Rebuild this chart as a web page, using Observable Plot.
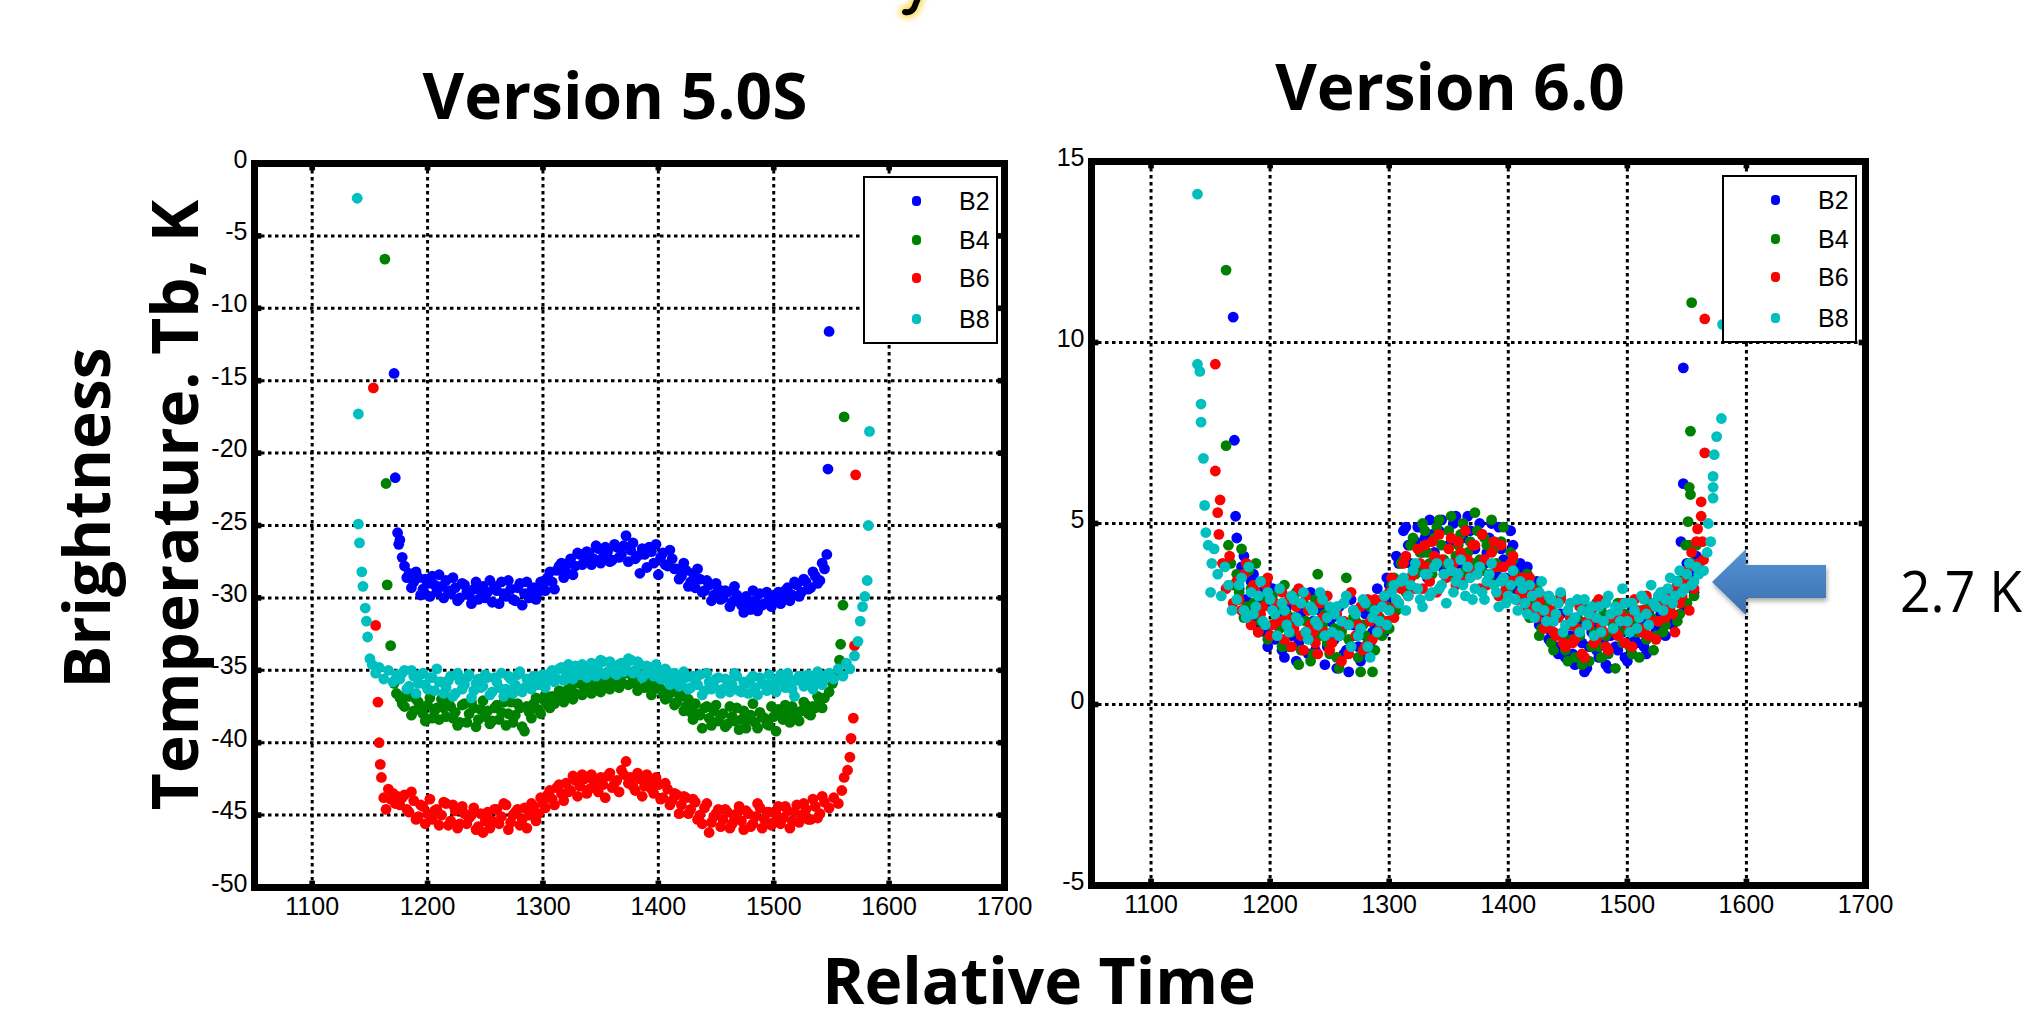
<!DOCTYPE html>
<html><head><meta charset="utf-8">
<script src="https://cdn.jsdelivr.net/npm/d3@7"></script>
<script src="https://cdn.jsdelivr.net/npm/@observablehq/plot@0.6"></script>
<style>
html,body{margin:0;padding:0;background:#fff;}
#page{position:relative;width:2027px;height:1024px;overflow:hidden;background:#fff;}
.chart{position:absolute;background:none !important;}
#overlay{position:absolute;left:0;top:0;pointer-events:none;}
</style></head><body><div id="page"></div>
<script>
// ---------- categories / ticks ----------
const bands = ["B2", "B4", "B6", "B8"];
const bandColors = ["#0000ff", "#008000", "#ff0000", "#00bfbf"];
const xTicks = [1100, 1200, 1300, 1400, 1500, 1600, 1700];
const xGrid = [1100, 1200, 1300, 1400, 1500, 1600];
const yTicksV5 = [-50, -45, -40, -35, -30, -25, -20, -15, -10, -5, 0];
const yTicksV6 = [-5, 0, 5, 10, 15];

// ---------- Version 5.0S : sample times ----------
const timesV5 = [1176,1180,1184,1188,1192,1196,1200,1204,1208,1212,
1216,1220,1224,1228,1232,1236,1240,1244,1248,1252,
1256,1260,1264,1268,1272,1276,1280,1284,1288,1292,
1296,1300,1304,1308,1312,1316,1320,1324,1328,1332,
1336,1340,1344,1348,1352,1356,1360,1364,1368,1372,
1376,1380,1384,1388,1392,1396,1400,1404,1408,1412,
1416,1420,1424,1428,1432,1436,1440,1444,1448,1452,
1456,1460,1464,1468,1472,1476,1480,1484,1488,1492,
1496,1500,1504,1508,1512,1516,1520,1524,1528,1532,
1536,1540,1544];
const timesV5b = [1178,1182,1186,1190,1194,1198,1202,1206,1210,1214,
1218,1222,1226,1230,1234,1238,1242,1246,1250,1254,
1258,1262,1266,1270,1274,1278,1282,1286,1290,1294,
1298,1302,1306,1310,1314,1318,1322,1326,1330,1334,
1338,1342,1346,1350,1354,1358,1362,1366,1370,1374,
1378,1382,1386,1390,1394,1398,1402,1406,1410,1414,
1418,1422,1426,1430,1434,1438,1442,1446,1450,1454,
1458,1462,1466,1470,1474,1478,1482,1486,1490,1494,
1498,1502,1506,1510,1514,1518,1522,1526,1530,1534,
1538,1542];

const v5B2 = [-26.0,-27.8,-28.3,-28.9,-28.6,-29.4,-29.0,-28.5,-29.6,-29.2,
-28.8,-29.7,-29.3,-30.0,-29.1,-29.8,-29.4,-30.1,-29.2,-29.6,
-30.3,-29.5,-28.9,-29.9,-29.4,-30.2,-29.0,-29.7,-30.0,-29.3,
-29.6,-29.0,-28.6,-28.9,-28.1,-27.6,-28.2,-27.3,-27.8,-27.0,
-27.5,-26.9,-27.3,-26.6,-27.2,-26.8,-27.4,-26.5,-27.0,-25.7,
-26.7,-27.3,-28.3,-27.0,-26.5,-27.6,-28.4,-26.9,-27.8,-27.3,
-28.0,-28.5,-28.1,-28.9,-29.3,-28.7,-29.5,-29.1,-29.8,-29.4,
-30.0,-29.6,-30.3,-29.8,-30.5,-29.9,-30.8,-30.2,-29.7,-30.4,
-29.9,-30.3,-29.6,-30.0,-29.3,-29.8,-29.1,-29.6,-28.9,-29.3,
-28.5,-28.8,-28.0];
const v5B2b = [-27.2,-28.6,-29.3,-28.2,-29.8,-28.7,-29.9,-29.1,-28.4,-30.0,
-29.5,-28.6,-30.2,-29.0,-29.6,-30.4,-28.9,-29.5,-30.0,-28.8,
-29.2,-30.4,-29.7,-28.8,-30.1,-29.3,-30.5,-28.9,-29.5,-30.1,
-28.9,-29.5,-28.2,-29.4,-27.8,-28.6,-27.6,-28.4,-26.9,-27.7,
-26.8,-27.7,-26.4,-27.6,-26.5,-27.5,-26.3,-27.2,-26.4,-27.5,
-26.2,-27.1,-26.6,-27.9,-26.8,-26.3,-27.2,-27.7,-26.7,-28.0,
-28.7,-27.6,-29.2,-28.3,-28.0,-29.6,-28.8,-30.2,-29.0,-30.1,
-29.5,-30.6,-29.2,-30.0,-31.0,-30.4,-29.5,-30.9,-30.5,-29.6,
-30.6,-29.8,-30.4,-29.5,-30.2,-28.9,-29.9,-28.7,-29.4,-28.2,
-29.0,-27.6];
const v5B4 = [-36.9,-37.5,-36.8,-37.8,-37.2,-38.0,-37.4,-38.3,-37.6,-37.0,
-38.2,-37.5,-37.9,-38.6,-37.3,-38.0,-37.6,-38.4,-37.1,-37.8,
-38.5,-37.4,-37.9,-38.8,-37.2,-38.1,-37.6,-39.2,-37.9,-37.3,
-37.7,-37.0,-37.4,-36.8,-37.1,-36.5,-36.9,-36.2,-36.6,-35.9,
-36.3,-35.8,-36.4,-35.6,-36.1,-35.5,-36.0,-35.3,-35.8,-35.2,
-34.3,-35.9,-35.4,-36.2,-35.7,-36.3,-35.9,-36.6,-36.9,-36.5,
-37.2,-36.8,-37.5,-37.9,-37.3,-38.1,-37.6,-38.3,-37.8,-38.5,
-38.0,-38.7,-38.2,-37.6,-38.4,-39.0,-38.1,-38.6,-37.9,-38.3,
-38.8,-38.2,-37.7,-38.4,-38.0,-37.5,-38.3,-37.8,-37.4,-38.1,
-37.6,-37.2,-36.9];
const v5B4b = [-37.3,-36.5,-38.1,-37.0,-37.7,-38.5,-36.9,-37.8,-38.4,-37.6,
-37.1,-38.3,-38.8,-37.4,-38.6,-37.2,-38.9,-37.7,-38.2,-38.7,
-37.6,-38.4,-37.2,-38.0,-38.6,-37.3,-38.9,-37.5,-38.3,-36.9,
-38.0,-36.7,-37.6,-37.3,-36.4,-37.2,-36.3,-37.0,-35.8,-36.7,
-35.6,-36.6,-35.9,-36.5,-35.4,-36.3,-35.7,-36.2,-35.1,-36.0,
-35.5,-36.4,-35.2,-35.9,-36.7,-35.6,-36.3,-37.0,-36.1,-37.4,
-36.6,-37.8,-37.0,-38.4,-38.0,-39.0,-37.5,-38.8,-37.4,-38.1,
-38.9,-37.5,-38.5,-39.1,-37.8,-38.4,-37.3,-39.0,-38.2,-38.7,
-37.5,-39.2,-38.1,-37.4,-38.6,-37.9,-38.5,-37.2,-38.0,-37.5,
-36.8,-37.6];
const v5B6 = [-44.3,-43.6,-44.8,-44.0,-45.1,-44.4,-44.9,-45.3,-44.6,-45.0,
-44.2,-45.4,-44.7,-45.6,-44.9,-45.2,-44.5,-45.8,-46.2,-44.8,
-45.4,-44.6,-45.1,-44.3,-45.5,-44.8,-45.7,-44.5,-45.0,-44.4,
-44.9,-44.2,-43.6,-43.9,-43.1,-43.5,-42.8,-43.3,-42.6,-43.0,
-42.5,-43.2,-42.7,-43.4,-42.9,-42.3,-43.1,-42.6,-41.9,-41.3,
-42.4,-43.3,-42.5,-43.0,-42.7,-43.5,-42.9,-43.8,-43.2,-44.0,
-43.6,-44.3,-43.8,-44.6,-44.1,-45.0,-44.5,-46.2,-45.1,-44.6,
-45.3,-44.8,-45.6,-44.9,-45.4,-44.7,-45.8,-45.1,-44.5,-45.3,
-44.8,-45.5,-44.4,-45.2,-44.7,-45.4,-44.3,-45.0,-44.6,-45.3,
-44.4,-44.9,-44.1];
const v5B6b = [-43.8,-44.6,-43.4,-45.3,-44.3,-45.6,-43.9,-44.7,-45.7,-44.1,
-45.7,-44.3,-45.9,-44.4,-45.6,-45.0,-46.0,-44.9,-45.4,-45.9,
-44.6,-45.6,-44.2,-46.0,-45.0,-44.6,-45.3,-45.9,-44.2,-45.4,
-43.8,-44.5,-43.3,-44.3,-42.9,-44.0,-43.4,-42.3,-43.7,-42.2,
-43.5,-42.2,-43.0,-42.4,-43.8,-42.1,-42.8,-43.4,-42.2,-42.8,
-43.0,-42.1,-43.7,-42.2,-43.2,-42.4,-43.9,-42.8,-44.3,-43.5,
-44.9,-43.7,-44.9,-43.9,-45.3,-45.6,-44.2,-45.5,-44.9,-45.8,
-44.6,-45.9,-45.2,-44.4,-46.0,-44.9,-45.6,-44.2,-45.9,-44.8,
-45.7,-44.9,-45.6,-44.4,-45.9,-44.8,-45.5,-44.2,-45.3,-43.9,
-45.2,-43.7];
const v5B8 = [-35.6,-35.0,-36.1,-35.4,-35.9,-35.2,-36.3,-35.5,-34.9,-35.8,
-36.2,-35.4,-36.6,-35.7,-36.0,-35.3,-36.4,-35.6,-36.1,-35.5,
-36.5,-35.8,-35.2,-36.3,-35.6,-36.0,-35.1,-36.2,-35.7,-35.4,
-36.0,-35.3,-35.7,-35.0,-35.6,-34.8,-35.4,-35.1,-34.7,-35.3,
-34.9,-35.2,-34.6,-35.0,-34.4,-35.1,-34.7,-35.3,-34.5,-34.9,
-34.3,-35.0,-34.6,-35.3,-34.8,-35.4,-35.0,-35.6,-35.1,-35.7,
-35.4,-36.0,-35.5,-36.2,-35.7,-35.3,-36.4,-35.8,-36.1,-35.5,
-36.3,-35.7,-36.0,-35.4,-36.5,-35.9,-35.6,-36.2,-35.5,-36.0,
-35.3,-36.1,-35.6,-35.9,-35.2,-36.3,-35.7,-35.4,-36.0,-35.5,
-35.8,-35.3,-35.6];
const v5B8b = [-35.2,-36.3,-35.0,-36.6,-35.3,-36.0,-35.5,-36.4,-35.8,-36.6,
-35.7,-36.8,-35.2,-36.3,-35.5,-36.9,-35.9,-36.2,-35.3,-36.7,
-35.5,-36.2,-36.8,-35.4,-36.6,-35.3,-36.5,-35.6,-36.3,-35.9,
-35.4,-36.2,-35.2,-35.8,-34.9,-35.7,-34.6,-35.6,-35.0,-34.6,
-35.5,-34.5,-35.4,-34.3,-35.3,-34.4,-35.2,-34.6,-35.1,-34.2,
-35.2,-34.4,-35.5,-34.7,-35.2,-34.6,-35.6,-34.9,-36.0,-35.2,
-36.1,-35.1,-36.3,-35.4,-36.0,-36.7,-35.2,-36.3,-35.6,-36.6,
-35.6,-36.5,-35.2,-36.4,-35.8,-36.6,-35.4,-36.7,-35.9,-36.4,
-35.8,-36.5,-35.3,-36.2,-35.6,-36.8,-35.4,-36.1,-35.3,-36.3,
-35.1,-36.0];

// Version 5.0S : ramp (start / end) points
const v5B2TailT = [1171, 1172, 1174, 1175, 1546, 1547, 1548];
const v5B2TailV = [-14.5, -21.7, -25.5, -26.3, -27.0, -21.1, -11.6];
const v5B4TailT = [1163, 1164, 1165, 1168, 1171, 1173, 1548, 1551, 1554, 1557, 1558, 1560, 1561];
const v5B4TailV = [-6.6, -22.1, -29.1, -33.3, -35.9, -36.6, -36.5, -35.9, -35.2, -34.3, -33.2, -30.5, -17.5];
const v5B6TailT = [1153, 1155, 1157, 1158, 1159, 1160, 1162, 1164, 1166, 1168, 1170, 1172, 1174, 1548, 1552, 1556, 1559, 1561, 1564, 1566, 1567, 1569, 1570, 1571];
const v5B6TailV = [-15.5, -31.9, -37.2, -40.0, -41.5, -42.4, -43.8, -44.6, -43.2, -43.9, -43.5, -44.2, -43.7, -44.5, -43.8, -44.2, -43.3, -42.4, -41.9, -41.0, -39.7, -38.3, -33.3, -21.5];
const v5B8TailT = [1139, 1140, 1140, 1141, 1143, 1144, 1146, 1147, 1148, 1150, 1152, 1155, 1158, 1162, 1166, 1170, 1173, 1548, 1552, 1556, 1560, 1563, 1566, 1570, 1573, 1575, 1577, 1579, 1581, 1582, 1583, 1583];
const v5B8TailV = [-2.4, -17.3, -24.9, -26.2, -28.2, -29.2, -30.7, -31.6, -32.7, -34.2, -34.6, -35.2, -34.8, -35.6, -35.0, -35.8, -35.3, -35.2, -35.6, -34.9, -35.4, -34.5, -34.9, -34.0, -33.0, -31.6, -30.6, -29.9, -28.8, -25.0, -18.5, -3.5];

// ---------- Version 6.0 : sample times ----------
const timesV6 = [1172,1176,1180,1184,1188,1192,1196,1200,1204,1208,
1212,1216,1220,1224,1228,1232,1236,1240,1244,1248,
1252,1256,1260,1264,1268,1272,1276,1280,1284,1288,
1292,1296,1300,1304,1308,1312,1316,1320,1324,1328,
1332,1336,1340,1344,1348,1352,1356,1360,1364,1368,
1372,1376,1380,1384,1388,1392,1396,1400,1404,1408,
1412,1416,1420,1424,1428,1432,1436,1440,1444,1448,
1452,1456,1460,1464,1468,1472,1476,1480,1484,1488,
1492,1496,1500,1504,1508,1512,1516,1520,1524,1528,
1532,1536,1540,1544,1548,1552,1556,1560];
const timesV6b = [1174,1178,1182,1186,1190,1194,1198,1202,1206,1210,
1214,1218,1222,1226,1230,1234,1238,1242,1246,1250,
1254,1258,1262,1266,1270,1274,1278,1282,1286,1290,
1294,1298,1302,1306,1310,1314,1318,1322,1326,1330,
1334,1338,1342,1346,1350,1354,1358,1362,1366,1370,
1374,1378,1382,1386,1390,1394,1398,1402,1406,1410,
1414,1418,1422,1426,1430,1434,1438,1442,1446,1450,
1454,1458,1462,1466,1470,1474,1478,1482,1486,1490,
1494,1498,1502,1506,1510,1514,1518,1522,1526,1530,
1534,1538,1542,1546,1550,1554,1558];

const v6B2 = [4.6,3.8,2.9,3.4,2.4,3.1,2.0,2.7,1.8,2.5,
1.3,2.2,3.0,1.7,2.6,1.4,2.3,1.9,2.8,1.6,
2.4,1.0,2.1,1.5,2.9,1.9,1.2,2.5,1.7,2.2,
2.8,2.0,3.3,2.6,3.9,4.8,4.4,3.6,4.9,4.2,
3.5,4.7,4.0,5.1,3.8,4.5,5.2,4.1,3.6,4.8,
4.3,5.0,3.9,4.6,3.4,4.9,4.0,3.3,4.4,3.7,
3.1,3.8,2.8,3.4,2.4,2.9,2.0,1.6,2.5,1.3,
1.9,1.1,2.3,0.9,1.6,2.2,1.3,1.8,1.0,2.4,
1.5,2.0,1.2,2.6,1.7,2.3,1.4,2.8,2.1,2.5,
1.9,3.0,2.4,3.3,2.7,3.6,3.1,3.8];
const v6B2b = [3.2,4.1,2.5,3.6,2.1,2.9,1.6,3.2,2.2,1.5,
2.7,1.9,1.2,2.5,2.0,3.1,1.5,2.6,1.1,2.3,
1.8,2.7,1.4,0.9,2.2,1.6,2.8,1.4,2.0,3.2,
2.3,3.5,2.9,4.1,3.4,4.9,3.9,4.5,3.8,4.6,
5.1,4.2,4.8,3.7,4.4,5.0,3.9,4.6,5.2,4.3,
3.8,4.7,4.2,5.0,3.6,4.3,3.5,4.8,3.2,3.9,
3.5,2.6,3.3,2.2,2.7,1.8,2.3,1.4,2.0,1.7,
1.4,2.1,1.7,1.0,2.0,1.5,2.7,1.1,1.9,1.6,
2.2,1.3,2.4,1.8,2.0,1.6,2.5,1.9,2.9,2.3,
2.8,2.2,3.4,2.9,3.9,3.3,4.1];
const v6B4 = [3.6,4.3,2.7,3.2,3.9,2.3,2.9,1.9,2.6,2.1,
3.3,1.6,2.4,1.1,2.8,2.0,1.4,3.6,2.2,1.7,
2.6,1.3,2.0,3.5,1.6,2.3,0.9,1.9,2.7,1.5,
2.4,3.0,2.1,3.5,2.8,4.0,3.3,4.6,3.8,5.0,
4.2,3.6,4.9,4.4,3.9,5.2,4.1,4.7,3.7,4.5,
5.3,4.0,4.6,3.5,4.3,3.8,4.9,3.2,4.0,3.4,
2.9,3.6,2.5,3.2,2.1,2.8,1.7,2.4,3.0,1.5,
2.2,1.3,1.9,2.7,1.2,2.0,1.6,2.5,1.4,2.1,
2.8,1.7,2.3,1.4,2.0,2.6,1.8,2.4,1.9,2.9,
2.2,2.7,3.2,2.5,3.5,4.4,3.0,3.7];
const v6B4b = [3.1,2.4,3.7,2.8,2.0,3.4,1.8,3.0,2.3,1.6,
2.5,2.0,3.1,1.5,2.3,1.2,2.9,1.9,2.5,1.4,
2.1,1.0,2.8,1.8,2.4,1.3,2.2,1.7,0.9,2.4,
1.9,2.7,3.3,2.6,3.9,3.1,4.4,3.6,4.2,4.8,
3.9,4.6,5.1,4.0,4.8,3.6,4.4,5.0,4.2,3.9,
4.8,3.7,4.4,5.1,3.9,4.5,3.4,4.2,3.6,3.0,
3.3,2.4,2.9,1.9,2.6,2.2,1.5,2.8,1.9,1.2,
1.8,2.4,1.1,2.2,1.6,2.8,1.3,1.9,2.3,1.0,
2.0,2.5,1.6,2.2,1.3,2.1,2.7,1.5,2.3,2.0,
2.6,3.0,2.3,3.3,2.8,3.9,4.4];
const v6B6 = [3.4,2.6,3.9,2.2,3.1,2.5,3.3,1.9,2.8,2.3,
1.8,2.9,2.1,3.2,1.5,2.6,2.0,1.4,2.4,3.0,
1.7,2.5,1.2,2.2,3.1,1.9,2.7,1.6,2.3,2.9,
2.1,2.7,3.1,2.4,3.4,3.9,3.0,3.6,4.3,3.2,
3.8,4.5,3.1,4.0,3.5,4.6,3.3,4.2,4.8,3.7,
4.4,3.2,4.0,3.6,4.5,3.0,3.8,3.4,4.1,2.9,
3.5,2.7,3.2,2.4,3.0,2.2,2.6,1.9,2.9,1.6,
2.4,1.8,2.7,1.3,2.2,1.7,2.9,2.0,1.5,2.5,
1.9,2.8,2.2,1.6,2.6,2.0,3.0,2.3,1.8,2.7,
2.4,3.1,2.0,2.8,3.4,2.6,3.2,3.9];
const v6B6b = [2.9,3.6,2.4,3.3,2.0,2.7,3.5,2.2,1.9,3.1,
2.4,1.6,2.7,1.9,3.0,2.2,1.7,2.8,2.0,1.5,
2.6,1.9,2.3,1.4,2.6,2.2,1.5,2.9,1.8,2.5,
2.9,2.3,3.5,2.8,3.2,4.1,3.5,3.2,3.9,4.4,
3.4,4.1,4.7,3.6,4.3,3.9,4.5,3.4,4.0,4.4,
3.6,4.7,3.3,4.2,3.8,4.4,3.2,3.9,3.5,3.1,
3.0,3.5,2.6,2.8,2.1,2.5,2.0,2.4,1.7,2.2,
1.7,2.1,1.4,2.3,2.6,1.8,2.2,1.6,2.4,2.0,
2.5,1.7,2.4,2.9,2.1,2.6,1.9,2.7,2.3,3.1,
2.7,2.5,3.3,3.0,3.7,4.2,4.5];
const v6B8 = [2.9,3.5,2.4,3.1,2.7,3.4,2.2,2.9,2.5,3.2,
2.6,2.0,2.9,2.3,3.1,1.8,2.6,2.2,2.9,2.4,
2.0,2.7,2.3,3.0,1.6,2.5,2.1,2.8,1.3,2.6,
2.3,3.0,2.6,3.3,2.8,3.5,3.0,3.7,3.2,2.7,
3.6,3.1,3.9,3.3,2.8,3.7,3.4,4.0,3.0,3.5,
3.2,3.8,2.9,3.6,3.3,2.7,3.5,3.0,3.7,2.6,
3.2,2.5,3.0,2.7,3.4,2.3,2.9,2.5,3.1,2.2,
2.8,2.4,2.0,2.9,2.5,1.9,2.7,2.3,3.0,2.1,
2.6,3.2,2.3,2.8,2.1,3.0,2.5,3.3,2.7,3.1,
2.9,3.5,3.0,3.7,3.2,3.9,3.4,3.6];
const v6B8b = [3.3,2.6,3.8,2.5,3.0,2.3,3.1,2.6,1.9,2.8,
2.2,3.0,2.4,2.8,2.0,2.7,2.3,3.1,1.9,2.7,
2.5,1.9,2.8,2.2,2.6,1.9,2.9,1.6,2.4,2.0,
2.7,2.2,3.1,2.9,3.4,2.6,3.3,3.9,2.9,3.6,
3.0,3.8,3.2,3.6,3.9,3.1,3.6,3.3,3.8,2.9,
3.6,3.1,3.4,3.9,3.1,3.4,2.8,3.3,2.9,3.4,
2.8,3.3,2.4,3.1,2.6,3.0,2.3,2.8,2.0,2.6,
2.3,2.9,2.6,2.2,2.7,2.4,2.0,2.8,2.5,2.7,
2.3,2.8,2.0,2.6,2.4,2.9,2.2,2.8,3.0,2.6,
3.2,2.8,3.4,3.1,3.6,3.3,3.8];

// Version 6.0 : ramp (start / end) points
const v6B2TailT = [1169, 1170, 1171, 1545, 1547, 1547];
const v6B2TailV = [10.7, 7.3, 5.2, 4.5, 6.1, 9.3];
const v6B4TailT = [1163, 1163, 1165, 1167, 1169, 1549, 1551, 1552, 1553, 1553, 1554];
const v6B4TailV = [12.0, 7.15, 4.4, 3.9, 3.3, 4.4, 5.05, 6.0, 5.8, 7.55, 11.1];
const v6B6TailT = [1154, 1154, 1156, 1157, 1158, 1160, 1163, 1166, 1169, 1559, 1562, 1562, 1563, 1564, 1565, 1565];
const v6B6TailV = [9.4, 6.45, 5.3, 4.7, 5.65, 3.9, 3.2, 4.1, 2.8, 4.85, 5.6, 5.2, 4.5, 4.0, 6.95, 10.65];
const v6B8TailT = [1139, 1139, 1141, 1142, 1142, 1144, 1145, 1146, 1148, 1150, 1151, 1153, 1156, 1159, 1162, 1165, 1168, 1564, 1567, 1568, 1570, 1572, 1572, 1572, 1573, 1575, 1579, 1580];
const v6B8TailV = [14.1, 9.4, 9.2, 8.3, 7.8, 6.8, 5.5, 4.75, 4.4, 3.1, 3.9, 4.3, 3.6, 3.0, 3.8, 3.3, 2.6, 3.7, 4.2, 5.0, 4.5, 6.3, 5.7, 6.0, 6.9, 7.4, 7.9, 10.5];

// ---------- helpers ----------
const pts = (ts, vs) => ts.map((t, i) => ({t, v: vs[i]}));
const seriesV5 = [
  pts(timesV5, v5B2).concat(pts(timesV5b, v5B2b), pts(v5B2TailT, v5B2TailV)),
  pts(timesV5, v5B4).concat(pts(timesV5b, v5B4b), pts(v5B4TailT, v5B4TailV)),
  pts(timesV5, v5B6).concat(pts(timesV5b, v5B6b), pts(v5B6TailT, v5B6TailV)),
  pts(timesV5, v5B8).concat(pts(timesV5b, v5B8b), pts(v5B8TailT, v5B8TailV))
];
const seriesV6 = [
  pts(timesV6, v6B2).concat(pts(timesV6b, v6B2b), pts(v6B2TailT, v6B2TailV)),
  pts(timesV6, v6B4).concat(pts(timesV6b, v6B4b), pts(v6B4TailT, v6B4TailV)),
  pts(timesV6, v6B6).concat(pts(timesV6b, v6B6b), pts(v6B6TailT, v6B6TailV)),
  pts(timesV6, v6B8).concat(pts(timesV6b, v6B8b), pts(v6B8TailT, v6B8TailV))
];

const tickFont = '"Liberation Sans Narrow", "Liberation Sans", Arial, sans-serif';

function makeChart({series, yDomain, yTicks, width, height, mL, mR, mT, mB}) {
  const yGrid = yTicks.slice(1, -1);
  const grid = {stroke: "black", strokeOpacity: 1, strokeWidth: 3, strokeDasharray: "3.5,3.5"};
  return Plot.plot({
    width, height,
    marginLeft: mL, marginRight: mR, marginTop: mT, marginBottom: mB,
    x: {domain: [1050, 1700]},
    y: {domain: yDomain},
    style: {fontFamily: tickFont, fontSize: "25px", color: "black", background: "none", overflow: "visible"},
    marks: [
      Plot.gridX(xGrid, grid),
      Plot.gridY(yGrid, grid),
      ...series.map((s, i) => Plot.dot(s, {x: "t", y: "v", r: 5.4, fill: bandColors[i]})),
      Plot.frame({stroke: "black", strokeWidth: 7}),
      // small inward tick bumps where the grid meets the frame
      Plot.dot(xGrid, {x: d => d, y: () => yDomain[0], symbol: "square", r: 3.2, fill: "black", dy: -4}),
      Plot.dot(xGrid, {x: d => d, y: () => yDomain[1], symbol: "square", r: 3.2, fill: "black", dy: 4}),
      Plot.dot(yGrid, {x: () => 1050, y: d => d, symbol: "square", r: 3.2, fill: "black", dx: 4}),
      Plot.dot(yGrid, {x: () => 1700, y: d => d, symbol: "square", r: 3.2, fill: "black", dx: -4}),
      Plot.axisX({ticks: xTicks, tickSize: 0, tickPadding: 10, tickFormat: d => String(d), label: null}),
      Plot.axisY({ticks: yTicks, tickSize: 0, tickPadding: 7, tickFormat: d => String(d), label: null, dy: -4})
    ]
  });
}

const page = document.getElementById("page");

const c1 = makeChart({series: seriesV5, yDomain: [-50, 0], yTicks: yTicksV5,
  width: 860, height: 807, mL: 74, mR: 36, mT: 33, mB: 50});
c1.classList.add("chart"); c1.style.left = "180px"; c1.style.top = "130px";
page.appendChild(c1);

const c2 = makeChart({series: seriesV6, yDomain: [-5, 15], yTicks: yTicksV6,
  width: 875, height: 805, mL: 71, mR: 30, mT: 31, mB: 50});
c2.classList.add("chart"); c2.style.left = "1020px"; c2.style.top = "130px";
page.appendChild(c2);

// ---------- overlay: titles, axis titles, legends, annotation ----------
const NS = "http://www.w3.org/2000/svg";
const ov = document.createElementNS(NS, "svg");
ov.setAttribute("id", "overlay");
ov.setAttribute("width", 2027); ov.setAttribute("height", 1024);
page.appendChild(ov);
ov.innerHTML = `<defs>
<linearGradient id="ag" x1="0" y1="0" x2="0" y2="1"><stop offset="0" stop-color="#5594d6"/><stop offset="1" stop-color="#3b6eae"/></linearGradient>
<filter id="sh" x="-20%" y="-20%" width="140%" height="160%"><feDropShadow dx="1" dy="3" stdDeviation="2.5" flood-color="#000" flood-opacity="0.35"/></filter>
<filter id="glow" x="-100%" y="-100%" width="300%" height="300%"><feGaussianBlur stdDeviation="3"/></filter>
</defs>`;
function el(tag, attrs, text) {
  const e = document.createElementNS(NS, tag);
  for (const k in attrs) e.setAttribute(k, attrs[k]);
  if (text != null) e.textContent = text;
  ov.appendChild(e);
  return e;
}

const bold = {"font-family": '"Open Sans", Lato, sans-serif', "font-weight": 700, "font-size": 64, fill: "#000"};
// remnant of a cut-off glyph at the slide top (decoration)
el("path", {d: "M918,-2 L914,8 Q911,13 905,12", fill: "none", stroke: "#ffd84d", "stroke-width": 12, "stroke-linecap": "round", filter: "url(#glow)"});
el("path", {d: "M918,-2 L914,8 Q911,13 905,12", fill: "none", stroke: "#000", "stroke-width": 6, "stroke-linecap": "round"});

el("text", {...bold, x: 615, y: 119, "text-anchor": "middle"}, "Version 5.0S");
el("text", {...bold, x: 1450, y: 110, "text-anchor": "middle"}, "Version 6.0");
el("text", {...bold, x: 1039, y: 1004, "text-anchor": "middle"}, "Relative Time");
el("text", {...bold, transform: "translate(110,518) rotate(-90)", "text-anchor": "middle"}, "Brightness");
el("text", {...bold, transform: "translate(198,505) rotate(-90)", "text-anchor": "middle"}, "Temperature. Tb, K");

// legends
function legend(x, y) {
  el("rect", {x, y, width: 133, height: 166, fill: "#fff", stroke: "#000", "stroke-width": 2});
  const rows = [24, 63, 101, 142];
  bands.forEach((b, i) => {
    el("rect", {x: x + 48, y: y + rows[i] - 5, width: 9, height: 10, rx: 4, fill: bandColors[i]});
    el("text", {x: x + 95, y: y + rows[i] + 9, "font-family": '"Liberation Sans", Arial, sans-serif', "font-size": 25, fill: "#000"}, b);
  });
}
legend(864, 177);
legend(1723, 176);

// arrow + annotation
el("polygon", {points: "1712,582 1746,549 1746,565 1826,565 1826,598 1746,598 1746,615", fill: "url(#ag)", filter: "url(#sh)"});
el("text", {x: 1900, y: 612, "font-family": '"Open Sans", sans-serif', "font-weight": 400, "font-size": 56, fill: "#000", textLength: 122, lengthAdjust: "spacingAndGlyphs"}, "2.7 K");
</script></body></html>
